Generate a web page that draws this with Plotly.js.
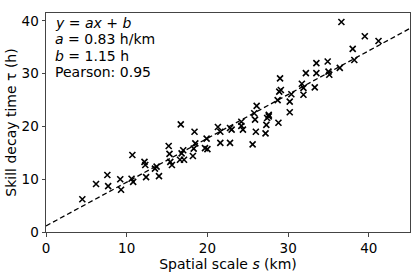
<!DOCTYPE html>
<html>
<head>
<meta charset="utf-8">
<script src="https://cdn.plot.ly/plotly-3.0.1.min.js"></script>
<style>html,body{margin:0;padding:0;background:#fff;}#chart{width:416px;height:274px;}</style>
</head>
<body>
<div id="chart"></div>
<script>
const scaleKm = [4.5,6.2,7.6,7.7,9.2,9.3,10.6,10.8,10.7,12.2,12.3,12.4,13.7,13.5,14.0,15.2,15.3,15.4,15.6,16.7,16.8,17.0,16.6,17.1,18.4,18.5,18.3,18.2,19.9,19.7,20.0,21.3,21.6,21.6,22.8,23.0,22.8,24.2,24.4,24.2,25.6,25.8,26.1,25.9,26.0,27.2,27.3,27.6,27.4,28.8,28.7,30.2,30.2,36.6,39.5,41.2,38.0,38.2,36.4,34.9,33.5,32.2,33.5,35.0,35.1,29.0,29.1,28.9,30.4,31.7,31.9,33.3,31.9,27.6];
const decayH = [6.2,9.1,10.8,8.7,10.0,8.0,10.1,9.5,14.6,13.3,12.7,10.4,12.4,12.0,10.6,16.3,14.8,13.3,12.7,20.4,14.9,15.5,13.7,13.7,19.0,16.8,15.8,14.4,17.7,15.9,15.7,19.9,19.0,16.9,19.7,19.4,16.9,20.9,19.4,20.1,16.6,22.5,23.9,21.3,19.0,18.7,20.3,21.9,21.6,20.7,25.0,24.7,22.7,39.8,37.1,36.2,34.7,32.6,31.1,32.3,32.0,30.1,30.1,30.4,29.8,29.1,26.9,26.6,26.1,28.1,27.3,27.4,26.0,22.2];
const slopeA = 0.83;
const interceptB = 1.15;
const fitX = [0, 45];
const fitY = fitX.map(v => slopeA * v + interceptB);
const annLines = ["<i>y</i> = <i>ax</i> + <i>b</i>", "<i>a</i> = 0.83 h/km", "<i>b</i> = 1.15 h", "Pearson: 0.95"];

const font = {family: 'DejaVu Sans', size: 13.5, color: '#000'};
const titleFont = {family: 'DejaVu Sans', size: 14, color: '#000'};
const traces = [
  {x: scaleKm, y: decayH, mode: 'markers', type: 'scatter',
   marker: {symbol: 'x-thin', size: 6, color: '#000', line: {width: 1.6, color: '#000'}}},
  {x: fitX, y: fitY, mode: 'lines', type: 'scatter',
   line: {color: '#000', width: 1.3, dash: '5px,3px'}}
];
const axisCommon = {showline: true, mirror: true, linecolor: '#444', linewidth: 1,
  ticks: 'outside', ticklen: 3.5, tickwidth: 1, tickcolor: '#444', showgrid: false,
  zeroline: false, tickfont: font};
const plotH = 274 - 13 - 42;
const annotations = annLines.map((t, i) => ({
  xref: 'paper', yref: 'paper', x: 0.02, y: 1 - (10 + i * 16.3) / plotH,
  xanchor: 'left', yanchor: 'middle', align: 'left', showarrow: false,
  text: t, font: titleFont
}));
const layout = {
  width: 416, height: 274,
  margin: {l: 46, r: 6, t: 13, b: 42},
  paper_bgcolor: '#fff', plot_bgcolor: '#fff',
  showlegend: false, font: font,
  xaxis: Object.assign({}, axisCommon, {range: [0, 45.1], tickvals: [0,10,20,30,40],
    title: {text: 'Spatial scale <i>s</i> (km)', font: titleFont, standoff: 3}}),
  yaxis: Object.assign({}, axisCommon, {range: [0, 41.5], tickvals: [0,10,20,30,40],
    title: {text: 'Skill decay time τ (h)', font: titleFont, standoff: 1}}),
  annotations: annotations
};
Plotly.newPlot('chart', traces, layout, {staticPlot: true, displayModeBar: false});
</script>
</body>
</html>
